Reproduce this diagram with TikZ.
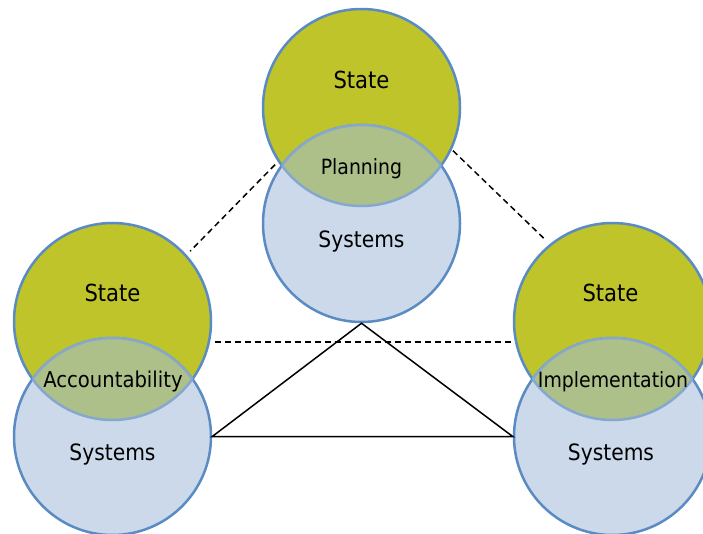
\documentclass[tikz,border=0pt]{standalone}
\usepackage{fontspec}
\setmainfont{DejaVu Sans Condensed}
\definecolor{stateF}{HTML}{BEC42A}
\definecolor{sysF}{HTML}{CBD9EA}
\definecolor{ovF}{HTML}{ADC08A}
\definecolor{bordS}{HTML}{5B8BC3}
\definecolor{bordL}{HTML}{86A8CF}
\tikzset{
  statec/.style={circle,minimum size=197pt,inner sep=0pt,fill=stateF,draw=bordS,line width=2.5pt},
  sysc/.style={circle,minimum size=197pt,inner sep=0pt,fill=sysF,draw=bordS,line width=2.5pt},
  lightb/.style={draw=bordL,line width=2.5pt},
  lbl/.style={anchor=base,inner sep=0pt,text=black},
  dashc/.style={draw=black,line width=1.5pt,dash pattern=on 6pt off 4pt},
  solidc/.style={draw=black,line width=1.5pt}
}
\newcommand\vennpair[4]{%
  \node[statec] (#1S) at (#2,#3) {};
  \node[sysc] (#1Y) at (#2,#4) {};
  \begin{scope}
    \clip (#2,#3) circle (98.5pt);
    \fill[ovF] (#2,#4) circle (98.5pt);
    \draw[lightb] (#2,#4) circle (98.5pt);
  \end{scope}
  \begin{scope}
    \clip (#2,#4) circle (98.5pt);
    \draw[lightb] (#2,#3) circle (98.5pt);
  \end{scope}
}
\begin{document}
\begin{tikzpicture}[x=1pt,y=-1pt]
\useasboundingbox (0,0) rectangle (703,534);
\fill[white] (0,0) rectangle (703,534);
\vennpair{t}{361.5}{107.5}{223.5}
\vennpair{l}{112.5}{321.5}{436.5}
\vennpair{r}{612.5}{321.5}{436.5}
% labels
\node[lbl,font=\fontsize{23.5pt}{26pt}\selectfont] (tSl) at (361.5,89) {State};
\node[lbl,font=\fontsize{21pt}{24pt}\selectfont] (tOl) at (361.5,175) {Planning};
\node[lbl,font=\fontsize{22.5pt}{26pt}\selectfont] (tYl) at (361.5,248) {Systems};
\node[lbl,font=\fontsize{23.5pt}{26pt}\selectfont] (lSl) at (112.5,301) {State};
\node[lbl,font=\fontsize{21.8pt}{26pt}\selectfont] (lOl) at (113,387) {Accountability};
\node[lbl,font=\fontsize{22.5pt}{26pt}\selectfont] (lYl) at (112.5,460) {Systems};
\node[lbl,font=\fontsize{23.5pt}{26pt}\selectfont] (rSl) at (610.5,301) {State};
\node[lbl,font=\fontsize{21pt}{24pt}\selectfont] (rOl) at (613,387) {Implementation};
\node[lbl,font=\fontsize{22.5pt}{26pt}\selectfont] (rYl) at (611,460) {Systems};
% connectors
\draw[dashc,shorten <=4pt,shorten >=5pt] (tS.213.6) -- (lS.42.7);
\draw[dashc,shorten <=1.5pt,shorten >=5pt] (tS.335) -- (rS.129.6);
\draw[dashc,shorten <=4.5pt] (lS.348.7) -- (lS.348.7 -| rS.west);
\draw[solidc] (tY.south) -- (lY.east) -- (rY.west) -- cycle;
\end{tikzpicture}
\end{document}
